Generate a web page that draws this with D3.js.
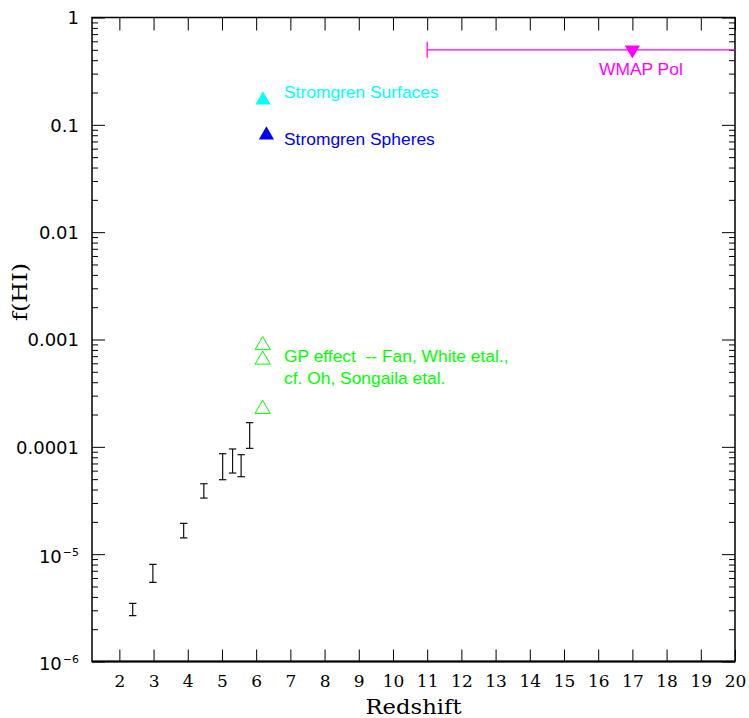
<!DOCTYPE html>
<html>
<head>
<meta charset="utf-8">
<script src="https://cdn.jsdelivr.net/npm/d3@7"></script>
<style>
  body { margin: 0; background: #fff; }
  svg { display: block; }
  .note { font-family: "Liberation Sans", Arial, sans-serif; font-size: 17.4px; white-space: pre; }
</style>
</head>
<body>
<svg id="chart" width="749" height="718"></svg>
<script>
// axis ticks
const xTickValues = [2, 3, 4, 5, 6, 7, 8, 9, 10, 11, 12, 13, 14, 15, 16, 17, 18, 19, 20];
const yTickValues = [1, 0.1, 0.01, 0.001, 0.0001, 1e-5, 1e-6];
const yTickLabels = [['1'], ['0.1'], ['0.01'], ['0.001'], ['0.0001'], ['10', '\u22125'], ['10', '\u22126']];

// quasar measurements (error bars only)
const barZ  = [2.39, 2.98, 3.88, 4.47, 5.02, 5.31, 5.56, 5.81];
const barHi = [3.48e-6, 8.04e-6, 1.94e-5, 4.53e-5, 8.63e-5, 9.55e-5, 8.45e-5, 1.68e-4];
const barLo = [2.67e-6, 5.47e-6, 1.42e-5, 3.33e-5, 4.94e-5, 5.70e-5, 5.27e-5, 9.68e-5];

// Gunn-Peterson lower limits (open triangles)
const gpZ = [6.19, 6.19, 6.19];
const gpF = [8.83e-4, 6.48e-4, 2.25e-4];

// Stromgren estimates
const surfZ = [6.2];
const surfF = [0.170];
const sphZ = [6.3];
const sphF = [0.0802];

// WMAP polarisation
const wmapZ = [17];
const wmapF = [0.5];
const wmapLo = [11];
const wmapHi = [24];

const svg = d3.select('#chart');
const margin = { top: 17.5, right: 14, bottom: 56.5, left: 92 };
const width = 749, height = 718;

const x = d3.scaleLinear().domain([1.2, 20]).range([margin.left, width - margin.right]);
const y = d3.scaleLog().domain([1e-6, 1]).range([height - margin.bottom, margin.top]);

const x0 = x.range()[0], x1 = x.range()[1];
const y0 = y.range()[0], y1 = y.range()[1];

// clip so the WMAP range runs off the right edge
svg.append('defs').append('clipPath').attr('id', 'plot-clip')
  .append('rect').attr('x', x0).attr('y', y1).attr('width', x1 - x0).attr('height', y0 - y1);

const minorValues = y.ticks().filter(v => yTickValues.indexOf(v) < 0);

// ticks on all four sides, pointing inward
function styleTicks(g) {
  g.select('.domain').remove();
  g.selectAll('.tick line').attr('stroke', '#000').attr('stroke-width', 1);
}

const xBottom = svg.append('g')
  .attr('transform', `translate(0,${y0})`)
  .call(d3.axisBottom(x).tickValues(xTickValues).tickSizeInner(-12).tickSizeOuter(0).tickPadding(13.5))
  .call(styleTicks);
xBottom.selectAll('.tick text')
  .attr('font-family', '"DejaVu Serif", serif')
  .attr('font-size', 17)
  .attr('fill', '#000');

svg.append('g')
  .attr('transform', `translate(0,${y1})`)
  .call(d3.axisTop(x).tickValues(xTickValues).tickSizeInner(-13).tickSizeOuter(0).tickFormat(''))
  .call(styleTicks);

const yLeft = svg.append('g')
  .attr('transform', `translate(${x0},0)`)
  .call(d3.axisLeft(y).tickValues(yTickValues).tickSizeInner(-13).tickSizeOuter(0).tickPadding(13).tickFormat(''))
  .call(styleTicks);

svg.append('g')
  .attr('transform', `translate(${x0},0)`)
  .call(d3.axisLeft(y).tickValues(minorValues).tickSizeInner(-6).tickSizeOuter(0).tickFormat(''))
  .call(styleTicks);

svg.append('g')
  .attr('transform', `translate(${x1},0)`)
  .call(d3.axisRight(y).tickValues(yTickValues).tickSizeInner(-13).tickSizeOuter(0).tickFormat(''))
  .call(styleTicks);

svg.append('g')
  .attr('transform', `translate(${x1},0)`)
  .call(d3.axisRight(y).tickValues(minorValues).tickSizeInner(-6).tickSizeOuter(0).tickFormat(''))
  .call(styleTicks);

// y tick labels, with superscript exponents for the small powers
yLeft.selectAll('.tick').each(function (d, i) {
  const parts = yTickLabels[i];
  const t = d3.select(this).select('text')
    .attr('x', -13)
    .attr('dy', parts.length > 1 ? '0.45em' : '0.36em')
    .attr('text-anchor', 'end')
    .attr('font-family', '"DejaVu Sans", sans-serif')
    .attr('font-size', 18)
    .attr('fill', '#000');
  t.append('tspan').text(parts[0]);
  if (parts.length > 1) {
    t.append('tspan').attr('font-size', 11).attr('dy', '-0.62em').attr('dx', 1).text(parts[1]);
  }
});

// frame
svg.append('rect')
  .attr('x', x0).attr('y', y1)
  .attr('width', x1 - x0).attr('height', y0 - y1)
  .attr('fill', 'none').attr('stroke', '#000').attr('stroke-width', 1.5);
svg.append('line')
  .attr('x1', x0).attr('x2', x1).attr('y1', y0).attr('y2', y0)
  .attr('stroke', '#000').attr('stroke-width', 2);

// axis titles
svg.append('text')
  .attr('x', (x0 + x1) / 2).attr('y', 714)
  .attr('text-anchor', 'middle')
  .attr('font-family', '"DejaVu Serif", serif')
  .attr('font-size', 20)
  .attr('textLength', 96).attr('lengthAdjust', 'spacingAndGlyphs')
  .text('Redshift');

svg.append('text')
  .attr('transform', 'translate(27,292) rotate(-90)')
  .attr('text-anchor', 'middle')
  .attr('font-family', '"DejaVu Serif", serif')
  .attr('font-size', 20)
  .attr('textLength', 58).attr('lengthAdjust', 'spacingAndGlyphs')
  .text('f(HI)');

const plot = svg.append('g').attr('clip-path', 'url(#plot-clip)');

// error bars
const capHalf = 3.7;
const bars = plot.selectAll('.bar').data(barZ).enter().append('g').attr('class', 'bar')
  .attr('stroke', '#111').attr('stroke-width', 1.2);
bars.append('line')
  .attr('x1', d => x(d)).attr('x2', d => x(d))
  .attr('y1', (d, i) => y(barHi[i])).attr('y2', (d, i) => y(barLo[i]));
bars.append('line')
  .attr('x1', d => x(d) - capHalf).attr('x2', d => x(d) + capHalf)
  .attr('y1', (d, i) => y(barHi[i])).attr('y2', (d, i) => y(barHi[i]));
bars.append('line')
  .attr('x1', d => x(d) - capHalf).attr('x2', d => x(d) + capHalf)
  .attr('y1', (d, i) => y(barLo[i])).attr('y2', (d, i) => y(barLo[i]));

const tri = d3.symbol().type(d3.symbolTriangle).size(100);

// GP open triangles
plot.selectAll('.gp').data(gpZ).enter().append('path')
  .attr('class', 'gp')
  .attr('d', tri)
  .attr('transform', (d, i) => `translate(${x(d)},${y(gpF[i])})`)
  .attr('fill', 'none').attr('stroke', '#00ff00').attr('stroke-width', 1);

// Stromgren filled triangles
plot.selectAll('.surf').data(surfZ).enter().append('path')
  .attr('d', tri)
  .attr('transform', (d, i) => `translate(${x(d)},${y(surfF[i])})`)
  .attr('fill', '#00ffff');
plot.selectAll('.sph').data(sphZ).enter().append('path')
  .attr('d', tri)
  .attr('transform', (d, i) => `translate(${x(d)},${y(sphF[i])})`)
  .attr('fill', '#0000ff');

// WMAP range and marker
const wm = plot.selectAll('.wmap').data(wmapZ).enter().append('g')
  .attr('stroke', '#ff00ff').attr('stroke-width', 1.3);
wm.append('line')
  .attr('x1', (d, i) => x(wmapLo[i])).attr('x2', (d, i) => x(wmapHi[i]))
  .attr('y1', (d, i) => y(wmapF[i])).attr('y2', (d, i) => y(wmapF[i]));
wm.append('line')
  .attr('x1', (d, i) => x(wmapLo[i])).attr('x2', (d, i) => x(wmapLo[i]))
  .attr('y1', (d, i) => y(wmapF[i]) - 8).attr('y2', (d, i) => y(wmapF[i]) + 8);
wm.append('path')
  .attr('d', tri)
  .attr('stroke', 'none').attr('fill', '#ff00ff')
  .attr('transform', (d, i) => `translate(${x(d)},${y(wmapF[i])}) rotate(180)`);

// annotations
svg.append('text').attr('class', 'note').attr('x', 284).attr('y', 97.5)
  .attr('fill', '#00ffff').text('Stromgren Surfaces');
svg.append('text').attr('class', 'note').attr('x', 284).attr('y', 145)
  .attr('fill', '#0000ff').text('Stromgren Spheres');
svg.append('text').attr('class', 'note').attr('x', 284).attr('y', 362)
  .attr('fill', '#00ff00').text('GP effect  -- Fan, White etal.,');
svg.append('text').attr('class', 'note').attr('x', 284).attr('y', 384)
  .attr('fill', '#00ff00').text('cf. Oh, Songaila etal.');
svg.append('text').attr('class', 'note').attr('x', 599).attr('y', 74.5)
  .attr('fill', '#ff00ff').text('WMAP Pol');
</script>
</body>
</html>
